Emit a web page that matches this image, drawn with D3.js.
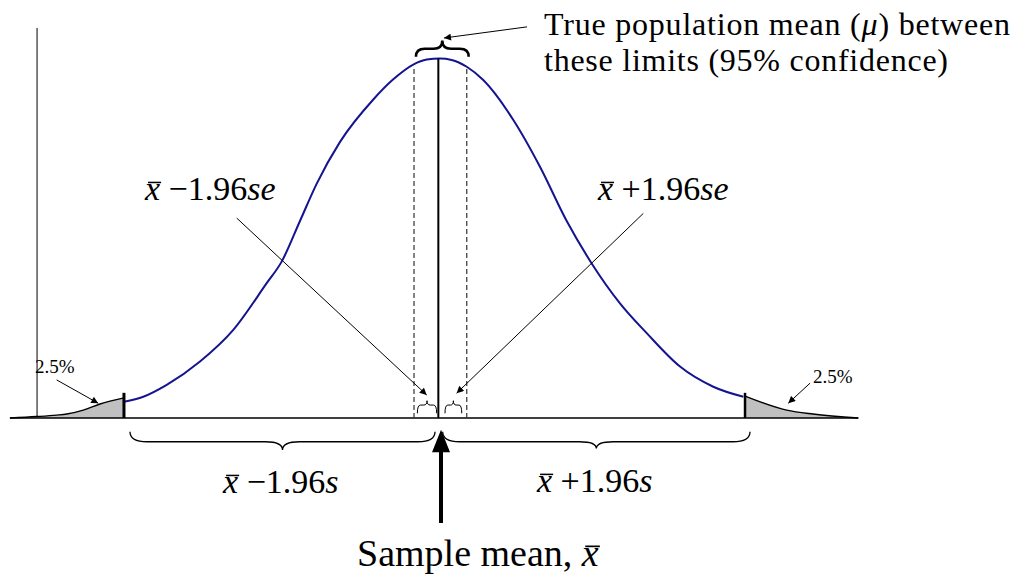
<!DOCTYPE html>
<html><head><meta charset="utf-8">
<script src="https://cdn.jsdelivr.net/npm/d3@7"></script>
<style>
body{margin:0;background:#fff}
svg{display:block}
text{font-family:"Liberation Serif","Times New Roman",serif;fill:#000}
</style>
</head><body>
<svg id="c" width="1014" height="575"></svg>
<script>
// ---------- data (z = distance from sample mean in sd units, h = relative density) ----------
const curveZ = [-2.469,-2.318,-2.135,-1.875,-1.615,-1.354,-1.237,-1.094,-0.963,-0.781,-0.521,-0.365,-0.209,-0.104,0,0.091,0.209,0.338,0.573,0.781,0.990,1.185,1.406,1.615,1.875,2.135,2.370];
const curveH = [0.045,0.059,0.092,0.157,0.245,0.375,0.435,0.548,0.652,0.768,0.886,0.942,0.983,0.997,1.0,0.996,0.977,0.940,0.829,0.699,0.548,0.430,0.319,0.236,0.143,0.087,0.059];
const leftTailZ = [-3.36,-3.151,-2.995,-2.916,-2.787,-2.656,-2.469];
const leftTailH = [0,0.004,0.008,0.011,0.022,0.039,0.056];
const rightTailZ = [2.383,2.709,2.914,3.268];
const rightTailH = [0.061,0.022,0.011,0];
const baselineZ = [-3.36,3.268];
const axisZ = -3.148, axisTopH = 1.085;
const cutoffZ = [-2.469,2.383];
const cutoffTopH = 0.070;
const sampleMeanZ = -0.013;
const ciLimitsZ = [-0.203,0.209];
const tailLabels = ["2.5%","2.5%"];
const seLabels = [["x"," \u22121.96","se"],["x"," +1.96","se"]];
const sLabels = [["x"," \u22121.96","s"],["x"," +1.96","s"]];
const titleLines = ["True population mean (", "\u03bc", ") between", "these limits (95% confidence)"];
const sampleLabel = ["Sample mean, ","x"];

// ---------- scales ----------
const x = d3.scaleLinear().domain([-3.5,3.5]).range([440-3.5*128, 440+3.5*128]);
const y = d3.scaleLinear().domain([0,1]).range([418, 58.5]);
const svg = d3.select("#c");

const defs = svg.append("defs");
defs.append("marker").attr("id","ah").attr("viewBox","0 0 10 10").attr("refX",10).attr("refY",5)
  .attr("markerWidth",9).attr("markerHeight",7).attr("markerUnits","userSpaceOnUse").attr("orient","auto")
  .append("path").attr("d","M0,0 L10,5 L0,10 z").attr("fill","#000");

// ---------- axis line ----------
svg.append("line").attr("x1",x(axisZ)).attr("x2",x(axisZ)).attr("y1",y(0)).attr("y2",y(axisTopH))
  .attr("stroke","#000").attr("stroke-width",1);

// ---------- tails ----------
const tailArea = d3.area().x(d=>x(d[0])).y0(y(0)).y1(d=>y(d[1])).curve(d3.curveMonotoneX);
const tailLine = d3.line().x(d=>x(d[0])).y(d=>y(d[1])).curve(d3.curveMonotoneX);
const lt = leftTailZ.map((z,i)=>[z,leftTailH[i]]);
const rt = rightTailZ.map((z,i)=>[z,rightTailH[i]]);
[lt,rt].forEach(t=>{
  svg.append("path").attr("d",tailArea(t)).attr("fill","#c0c0c0");
  svg.append("path").attr("d",tailLine(t)).attr("fill","none").attr("stroke","#000").attr("stroke-width",1.4);
});

// baseline
svg.append("line").attr("x1",x(baselineZ[0])).attr("x2",x(baselineZ[1])).attr("y1",y(0)).attr("y2",y(0))
  .attr("stroke","#000").attr("stroke-width",1.4);

// ---------- dashed CI lines ----------
ciLimitsZ.forEach(z=>{
  svg.append("line").attr("x1",x(z)).attr("x2",x(z)).attr("y1",y(0)).attr("y2",y(0.972))
    .attr("stroke","#333").attr("stroke-width",1.2).attr("stroke-dasharray","5,3");
});

// ---------- curve ----------
const pts = curveZ.map((z,i)=>[z,curveH[i]]);
svg.append("path").attr("d", d3.line().x(d=>x(d[0])).y(d=>y(d[1])).curve(d3.curveMonotoneX)(pts))
  .attr("fill","none").attr("stroke","#141490").attr("stroke-width",2);

// sample mean line
svg.append("line").attr("x1",x(sampleMeanZ)).attr("x2",x(sampleMeanZ)).attr("y1",y(0)).attr("y2",y(1.0))
  .attr("stroke","#000").attr("stroke-width",2);

// cutoff lines
cutoffZ.forEach((z,i)=>{
  svg.append("line").attr("x1",x(z)).attr("x2",x(z)).attr("y1",y(0)).attr("y2",y(cutoffTopH))
    .attr("stroke","#000").attr("stroke-width",i===0?3:2.5);
});

// ---------- braces ----------
function bracePath(x1,x2,yEnd,yBar,yTip){
  const xm=(x1+x2)/2, r=Math.min(Math.abs(x2-x1)/6,17);
  return `M${x1},${yEnd} Q${x1},${yBar} ${x1+r},${yBar} L${xm-r},${yBar} Q${xm},${yBar} ${xm},${yTip} Q${xm},${yBar} ${xm+r},${yBar} L${x2-r},${yBar} Q${x2},${yBar} ${x2},${yEnd}`;
}
function brace(z1,z2,hEnd,hBar,hTip,w){
  svg.append("path").attr("d",bracePath(x(z1),x(z2),y(hEnd),y(hBar),y(hTip)))
    .attr("fill","none").attr("stroke","#000").attr("stroke-width",w);
}
brace(ciLimitsZ[0]+0.015, ciLimitsZ[1]+0.015, 1.005, 1.027, 1.050, 2.6);
brace(-2.422,-0.039,-0.038,-0.066,-0.089,1.3);
brace(0.021,2.422,-0.038,-0.066,-0.085,1.3);
brace(-0.177,-0.026,0.013,0.036,0.048,1);
brace(0.039,0.170,0.013,0.036,0.048,1);

// ---------- pointer arrows ----------
function arrow(z1,h1,z2,h2){
  svg.append("line").attr("x1",x(z1)).attr("y1",y(h1)).attr("x2",x(z2)).attr("y2",y(h2))
    .attr("stroke","#000").attr("stroke-width",1).attr("marker-end","url(#ah)");
}
arrow(-1.588,0.556,-0.104,0.064);
arrow(1.588,0.569,0.130,0.069);
arrow(-2.995,0.106,-2.670,0.041);
arrow(2.891,0.097,2.721,0.041);
arrow(0.680,1.088,0.031,1.057);

// sample mean big arrow
const ax = x(0.008), aTip = y(-0.033), aBase = y(-0.095), aEnd = y(-0.292);
svg.append("line").attr("x1",ax).attr("x2",ax).attr("y1",aBase-2).attr("y2",aEnd).attr("stroke","#000").attr("stroke-width",4);
svg.append("path").attr("d",`M${ax},${aTip} L${ax-9},${aBase} L${ax+9},${aBase} Z`).attr("fill","#000");

// ---------- text ----------
function label(parts, z, h, size, italicIdx, barIdx){
  const t = svg.append("text").attr("x",x(z)).attr("y",y(h)).attr("font-size",size);
  parts.forEach((p,i)=>{
    t.append("tspan").text(p).attr("font-style", italicIdx.includes(i)?"italic":"normal");
  });
  if(barIdx!=null){
    const node=t.node();
    let idx=0; for(let i=0;i<barIdx;i++) idx+=parts[i].length;
    const s=node.getStartPositionOfChar(idx), e=node.getEndPositionOfChar(idx);
    svg.append("line").attr("x1",s.x+0.09*size).attr("x2",e.x+0.03*size)
      .attr("y1",s.y-0.52*size).attr("y2",s.y-0.52*size).attr("stroke","#000").attr("stroke-width",Math.max(1.2,size*0.045));
  }
  return t;
}
label(seLabels[0],-2.305,0.606,34,[0,2],0);
label(seLabels[1],1.234,0.606,34,[0,2],0);
label(sLabels[0],-1.695,-0.209,34,[0,2],0);
label(sLabels[1],0.758,-0.206,34,[0,2],0);
label(sampleLabel,-0.648,-0.412,38,[1],1);
label([tailLabels[0]],-3.164,0.125,19,[],null);
label([tailLabels[1]],2.914,0.097,19,[],null);

const t1 = label(titleLines.slice(0,3),0.8125,1.066,32,[1],null);
t1.attr("textLength",466).attr("lengthAdjust","spacing");
const t2 = label([titleLines[3]],0.8125,0.965,32,[],null);
t2.attr("textLength",404).attr("lengthAdjust","spacing");
</script>
</body></html>
